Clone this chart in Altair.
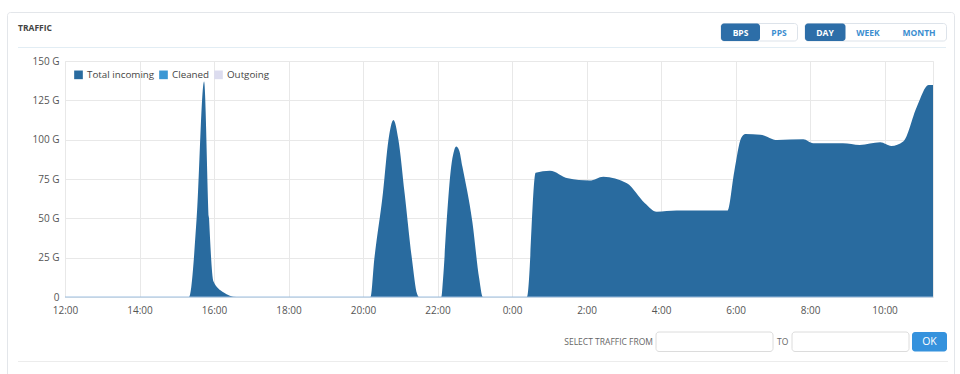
import altair as alt
import pandas as pd

# ---- data ----
times = [
    "2024-01-01T12:00", "2024-01-01T15:20", "2024-01-01T15:32", "2024-01-01T15:44",
    "2024-01-01T15:52", "2024-01-01T15:59", "2024-01-01T16:15", "2024-01-01T16:36",
    "2024-01-01T20:12", "2024-01-01T20:18", "2024-01-01T20:32", "2024-01-01T20:41",
    "2024-01-01T20:49", "2024-01-01T20:57", "2024-01-01T21:07", "2024-01-01T21:19",
    "2024-01-01T21:27", "2024-01-01T21:30",
    "2024-01-01T22:06", "2024-01-01T22:09", "2024-01-01T22:15", "2024-01-01T22:22",
    "2024-01-01T22:26", "2024-01-01T22:30", "2024-01-01T22:35", "2024-01-01T22:40",
    "2024-01-01T22:56", "2024-01-01T23:07", "2024-01-01T23:13",
    "2024-01-02T00:24", "2024-01-02T00:38", "2024-01-02T01:01", "2024-01-02T01:30",
    "2024-01-02T02:05", "2024-01-02T02:27", "2024-01-02T03:05", "2024-01-02T03:34",
    "2024-01-02T03:53", "2024-01-02T04:25", "2024-01-02T05:47", "2024-01-02T05:58",
    "2024-01-02T06:09", "2024-01-02T06:16", "2024-01-02T06:40", "2024-01-02T07:07",
    "2024-01-02T07:49", "2024-01-02T08:05", "2024-01-02T08:53", "2024-01-02T09:20",
    "2024-01-02T09:53", "2024-01-02T10:11", "2024-01-02T10:30", "2024-01-02T10:52",
    "2024-01-02T11:11", "2024-01-02T11:18",
]
incoming = [
    0, 0, 50, 137,
    50, 10, 3, 0,
    0, 23.5, 66, 100,
    112.5, 100, 66, 23.5,
    2, 0,
    0, 12, 50, 83,
    92, 95.6, 93, 83,
    48, 12, 0,
    0, 79, 80.3, 75.4,
    74, 76.5, 72.3, 59.6,
    54.2, 54.9, 54.9, 80,
    101, 103.6, 103.2, 99.8,
    100.2, 97.7, 97.7, 96.6,
    98.3, 96, 98.8, 121,
    134.8, 134.8,
]
series_names = ["Total incoming", "Cleaned", "Outgoing"]
series_colors = ["#296b9f", "#3a97d4", "#dcdcef"]
y_ticks = [0, 25, 50, 75, 100, 125, 150]
x_tick_hours = [(1, 12), (1, 14), (1, 16), (1, 18), (1, 20), (1, 22),
                (2, 0), (2, 2), (2, 4), (2, 6), (2, 8), (2, 10)]

df = pd.DataFrame({"time": pd.to_datetime(times), "value": incoming, "series": "Total incoming"})
one = pd.DataFrame({"k": [0]})

FONT = "Open Sans"
x_scale = alt.Scale(domain=[alt.DateTime(year=2024, month=1, date=1, hours=12),
                            alt.DateTime(year=2024, month=1, date=2, hours=11, minutes=18)])
x_vals = [alt.DateTime(year=2024, month=1, date=d, hours=h) for d, h in x_tick_hours]

area = alt.Chart(df).mark_area(interpolate="monotone").encode(
    x=alt.X("time:T", scale=x_scale, title=None,
            axis=alt.Axis(format="%-H:%M", values=x_vals,
                          domain=False, ticks=False, labelPadding=8, labelFontSize=10,
                          labelColor="#555", labelFont=FONT, gridColor="#e8e8e8",
                          labelFlush=False, labelOverlap=False)),
    y=alt.Y("value:Q", scale=alt.Scale(domain=[0, 150], nice=False), title=None,
            axis=alt.Axis(values=y_ticks, labelExpr="datum.value == 0 ? '0' : datum.value + ' G'",
                          domain=False, ticks=False, labelPadding=6, labelFontSize=10,
                          labelColor="#555", labelFont=FONT, gridColor="#e8e8e8",
                          labelOverlap=False)),
    color=alt.Color("series:N", scale=alt.Scale(domain=series_names, range=series_colors),
                    legend=alt.Legend(orient="none", legendX=8, legendY=8, direction="horizontal",
                                      title=None, symbolType="square", symbolSize=75,
                                      labelFont=FONT, labelFontSize=9.8, labelColor="#444",
                                      labelOffset=3, columnPadding=3)),
)

OX, OY = 65, 61  # plot origin in page pixels

def V(v):
    return alt.value(v)

def rect(x1, y1, x2, y2, **kw):
    return alt.Chart(one).mark_rect(**kw).encode(
        x=V(x1 - OX), x2=V(x2 - OX), y=V(y1 - OY), y2=V(y2 - OY))

def text(s, x, y, **kw):
    return alt.Chart(one).mark_text(text=s, font=FONT, baseline="middle", **kw).encode(
        x=V(x - OX), y=V(y - OY))

def hline(x1, x2, y, color):
    return alt.Chart(one).mark_rule(color=color, strokeWidth=1).encode(
        x=V(x1 - OX), x2=V(x2 - OX), y=V(y - OY))

zero = hline(OX, OX + 868, OY + 236, "#9dbfe0")

deco = [
    rect(7.5, 12.5, 954.5, 385, filled=False, stroke="#e3e6ea", strokeWidth=1, cornerRadius=3),
    text("TRAFFIC", 18, 28, align="left", fontSize=8.5, fontWeight="bold", color="#444"),
    hline(18, 946, 47.5, "#e2edf4"),
    rect(721, 23.5, 797.5, 41, fill="white", stroke="#dde3ea", strokeWidth=1, cornerRadius=3),
    rect(721, 23.5, 760, 41, fill="#2d6ea8", cornerRadius=3),
    text("BPS", 740.5, 32.5, align="center", fontSize=8.5, fontWeight="bold", color="white"),
    text("PPS", 779, 32.5, align="center", fontSize=8.5, fontWeight="bold", color="#3b8ed0"),
    rect(805, 23.5, 946.5, 41, fill="white", stroke="#dde3ea", strokeWidth=1, cornerRadius=3),
    rect(805, 23.5, 845.5, 41, fill="#2d6ea8", cornerRadius=3),
    text("DAY", 825, 32.5, align="center", fontSize=8.5, fontWeight="bold", color="white"),
    text("WEEK", 868, 32.5, align="center", fontSize=8.5, fontWeight="bold", color="#3b8ed0"),
    text("MONTH", 919, 32.5, align="center", fontSize=8.5, fontWeight="bold", color="#3b8ed0"),
    text("SELECT TRAFFIC FROM", 653, 341.5, align="right", fontSize=8.5, color="#666"),
    rect(656, 332, 773, 351.5, fill="white", stroke="#dcdcdc", strokeWidth=1, cornerRadius=3),
    text("TO", 777, 341.5, align="left", fontSize=8.5, color="#666"),
    rect(792, 332, 909, 351.5, fill="white", stroke="#dcdcdc", strokeWidth=1, cornerRadius=3),
    rect(912, 332, 947, 351.5, fill="#3592dd", cornerRadius=3),
    text("OK", 929.5, 342, align="center", fontSize=10.5, color="white"),
    hline(18, 948, 361.5, "#ececec"),
]

chart = alt.layer(area, zero, *deco).properties(
    width=868, height=236,
    autosize=alt.AutoSizeParams(type="none"),
    padding={"left": OX, "top": OY, "right": 960 - OX - 868, "bottom": 374 - OY - 236},
    background="white",
).configure_view(stroke="#e8e8e8")

chart.save("out.html", embed_options={"renderer": "svg", "actions": False})
